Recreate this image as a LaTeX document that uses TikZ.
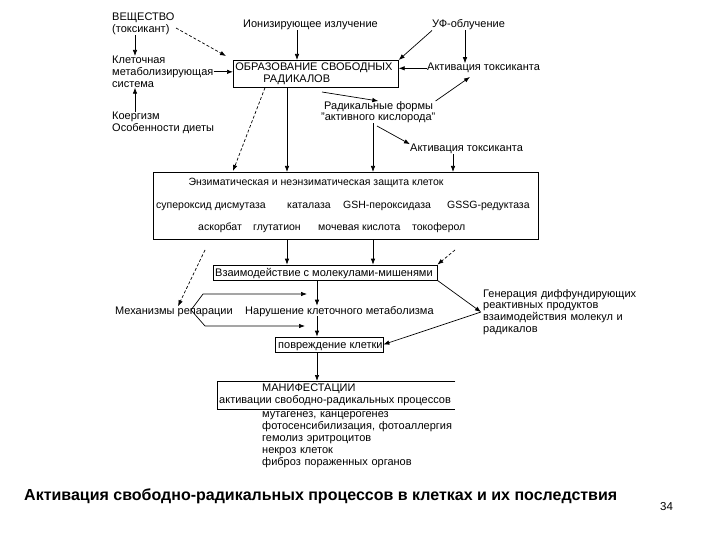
\documentclass[tikz,border=0pt]{standalone}
\usepackage{fontspec}
\setmainfont{Liberation Sans}
\usetikzlibrary{arrows.meta}
\newcommand\mynolsk{\lineskiplimit=-100pt\relax\lineskip=0pt\relax}
\begin{document}
\begin{tikzpicture}[x=1pt,y=-1pt,
  txt/.style={font=\fontsize{11}{11.8}\selectfont\mynolsk, inner sep=0pt, align=left},
  stxt/.style={txt, font=\fontsize{10.5}{11.5}\selectfont},
  boxx/.style={draw, line width=0.7pt, inner sep=0pt},
  arr/.style={-{Latex[length=6pt,width=4.5pt]}, line width=0.7pt},
  darr/.style={arr, dash pattern=on 3pt off 2pt}]
\useasboundingbox (0,0) rectangle (720,540);
% top left
\node[txt, anchor=north west] (vesch) at (112,13) {ВЕЩЕСТВО\\(токсикант)};
\node[txt, anchor=north west] (klet) at (112,56) {Клеточная\\метаболизирующая\\система};
\node[txt, anchor=north west] (koer) at (112,112) {Коергизм\\Особенности диеты};
\node[txt, anchor=base west] (ion) at (243,28) {Ионизирующее излучение};
\node[txt, anchor=base west] (uf) at (432,28) {УФ-облучение};
\node[boxx, txt, text width=161pt, inner sep=2pt, minimum height=27pt, anchor=north west] (obr) at (233,60) {ОБРАЗОВАНИЕ СВОБОДНЫХ\\\hspace*{28pt}РАДИКАЛОВ};
\node[txt, anchor=base west] (akt1) at (427,71) {Активация токсиканта};
\node[txt, anchor=north west] (rad) at (321,101) {\hspace*{3pt}Радикальные формы\\"активного кислорода"};
\node[txt, anchor=base west] (akt2) at (410,152) {Активация токсиканта};
% protection box
\node[boxx, minimum width=385pt, minimum height=67pt, anchor=north west] (prot) at (153,172) {};
\node[stxt, anchor=base] (p0) at (316,186) {Энзиматическая и неэнзиматическая защита клеток};
\node[stxt, anchor=base west] (p1) at (156,208) {супероксид дисмутаза};
\node[stxt, anchor=base west] (p2) at (287,208) {каталаза};
\node[stxt, anchor=base west] (p3) at (343,208) {GSH-пероксидаза};
\node[stxt, anchor=base west] (p4) at (447,208) {GSSG-редуктаза};
\node[stxt, anchor=base west] (p5) at (198,230) {аскорбат};
\node[stxt, anchor=base west] (p6) at (253,230) {глутатион};
\node[stxt, anchor=base west] (p7) at (318,230) {мочевая кислота};
\node[stxt, anchor=base west] (p8) at (412,230) {токоферол};
% middle
\node[boxx, minimum width=224pt, minimum height=15pt] (vz) at (325,272.5) {};
\node[txt, anchor=base west] (vzt) at (215,276.5) {Взаимодействие с молекулами-мишенями};
\node[txt, anchor=base west] (mech) at (115,314) {Механизмы репарации};
\node[txt, anchor=base west] (nar) at (245,314) {Нарушение клеточного метаболизма};
\node[txt, text width=160pt, anchor=north west] (gen) at (483,289) {Генерация диффундирующих\\реактивных продуктов\\взаимодействия молекул и\\радикалов};
\node[boxx, minimum width=108pt, minimum height=15pt] (pov) at (329,344.5) {};
\node[txt, anchor=base west] (povt) at (278,348.5) {повреждение клетки};
% manifestations
\node[txt, minimum width=238pt, minimum height=28pt, anchor=north west, inner sep=0pt] (man) at (217,381) {};
\draw[line width=0.7pt] (man.north east) -- (man.north west) -- (man.south west) -- (man.south east);
\node[txt, anchor=base west] (m1) at (262,391.5) {МАНИФЕСТАЦИИ};
\node[txt, anchor=base west] (m2) at (219,403.5) {активации свободно-радикальных процессов};
\node[txt, text width=200pt, anchor=north west, font=\fontsize{11}{12}\selectfont\mynolsk] (list) at (262,411.5) {мутагенез, канцерогенез\\фотосенсибилизация, фотоаллергия\\гемолиз эритроцитов\\некроз клеток\\фиброз пораженных органов};
% caption
\node[font=\bfseries\fontsize{16}{18}\selectfont, anchor=base west, inner sep=0pt] (cap) at (24,500.5) {Активация свободно-радикальных процессов в клетках и их последствия};
\node[font=\fontsize{11.5}{12}\selectfont, anchor=base west, inner sep=0pt] (num) at (660,510) {34};
% helper coordinates
\coordinate (x135) at (135,0);
\coordinate (x297) at (297,0);
\coordinate (x465) at (465,0);
\coordinate (x287) at (287,0);
\coordinate (x373) at (373,0);
\coordinate (x453) at (453,0);
\coordinate (x317) at (317,0);
\coordinate (x265) at (265,0);
\coordinate (x178) at (178,0);
\coordinate (d1) at (205,250);
\coordinate (d2) at (455,250);
\coordinate (br) at (191,310);
\coordinate (gw) at (481,312);
% arrows top
\draw[arr] (vesch.south -| x135) -- (klet.north -| x135);
\draw[darr] (176,28) -- (226,56);
\draw[arr] (klet.east) -- (klet.east -| obr.west);
\draw[arr] (koer.north -| x135) -- (klet.south -| x135);
\draw[arr] (ion.south -| x297) -- (obr.north -| x297);
\draw[arr] (uf.south west) -- (obr.north east);
\draw[arr] (uf.south -| x465) -- (akt1.north -| x465);
\draw[arr] (akt1.west) -- (akt1.west -| obr.east);
\draw[arr] (rad.north east) -- (470,77);
\draw[arr] (322,92) -- (rad.north);
\draw[arr] (377,126) -- (akt2.north west);
\draw[darr] (obr.south -| x265) -- (233,171);
\draw[arr] (obr.south -| x287) -- (prot.north -| x287);
\draw[arr] (rad.south -| x373) -- (prot.north -| x373);
\draw[arr] (akt2.south -| x453) -- (prot.north -| x453);
% arrows middle
\draw[arr] (prot.south -| x287) -- (vz.north -| x287);
\draw[arr] (prot.south -| x373) -- (vz.north -| x373);
\draw[darr] (d2) -- (vz.north east);
\draw[darr] (d1) -- (mech.north -| x178);
\draw[arr] (br) -- (203,294) -- (307,294);
\draw[arr] (br) -- (205,326) -- (305,326);
\draw[arr] (vz.south -| x317) -- (nar.north -| x317);
\draw[arr] (nar.south -| x317) -- (pov.north -| x317);
\draw[arr] (vz.south east) -- (gw);
\draw[arr] (gw) -- (pov.east);
\draw[arr] (pov.south -| x317) -- (man.north -| x317);
\end{tikzpicture}
\end{document}
